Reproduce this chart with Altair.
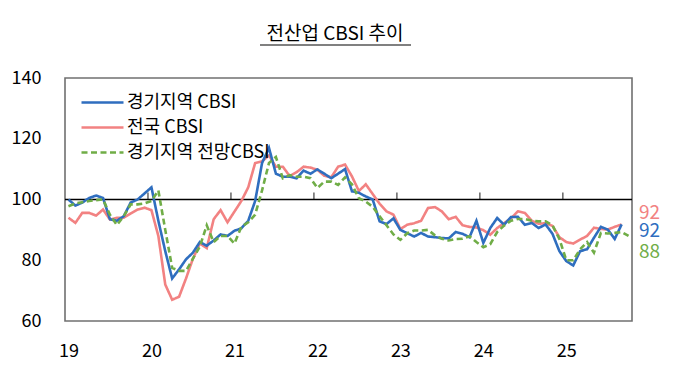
import altair as alt
import pandas as pd

title_text = "전산업 CBSI 추이"
years = ["19", "20", "21", "22", "23", "24", "25"]
series_names = ["경기지역 CBSI", "전국 CBSI", "경기지역 전망CBSI"]

gyeonggi = [100, 98, 99, 100.5, 101.3, 100.5, 93.5, 93, 94.5, 99, 100, 102, 104,
            93, 83, 74, 77, 80.3, 82.5, 86, 84.8, 86.5, 88.5, 88, 89.7, 90.5,
            93, 99.5, 112, 117, 108.5, 107.5, 107.5, 107, 109.5, 108.5, 109.9, 108.5, 107,
            108.5, 110, 102.7, 102.2, 101, 100, 92.8, 91.9, 93.8, 90, 88.9, 87.8, 89,
            87.8, 87.6, 87.3, 87.2, 89.3, 88.7, 87.6, 93, 85.7, 90.6, 93.9, 91.7, 94.2,
            94.3, 91.7, 92.3, 90.6, 91.8, 88.7, 83, 79.7, 78.3, 83, 83.6, 87.4, 91,
            90.1, 87, 91.8]
national = [94, 92.3, 95.6, 95.6, 94.7, 96.7, 93.4, 94, 94, 95.4, 96.7, 97.3, 96.5,
            88, 72, 67, 68, 74, 80.5, 85.5, 84, 93.5, 96.5, 92.5, 96, 99.5,
            104, 112, 112.6, 114.5, 110.8, 110.8, 107.7, 109, 110.8, 110.5, 109.8, 107.8, 107.3,
            110.8, 111.5, 107.6, 102.8, 105, 101.8, 98.6, 96.1, 95, 90.3, 91.7, 92.2, 93,
            97.2, 97.5, 96.1, 93.5, 94.3, 91.5, 91, 90.8, 89.9, 88.4, 90.6, 92.2, 93.8,
            96.1, 95.6, 93, 92, 92.2, 91.3, 87.6, 86, 85.5, 86.8, 88, 90.7, 90.3,
            90.1, 91, 91.8]
outlook = [97.8, 98.7, 99.1, 99.5, 99.8, 100, 95, 91.6, 94.5, 98.4, 98.4, 98.7, 99.5,
           103, 90, 77.5, 76.5, 76.5, 80.5, 84.5, 91.5, 86, 88, 88, 85.5, 91,
           92.5, 95, 103, 112, 114, 107, 108, 107.5, 107.5, 107, 103.8, 105.9, 105.9,
           104.8, 107.3, 105, 100.4, 99.3, 97.6, 94.5, 91.5, 88.5, 86.7, 88.9, 89.8, 89.8,
           90, 88.2, 87.1, 86.5, 87, 87.1, 87.9, 86, 84.3, 85.3, 89.3, 91.4, 93,
           93.6, 93.6, 93, 92.8, 92.8, 91.5, 87, 80, 80, 83.6, 86, 82.5, 89,
           88.8, 89, 89.3, 88]

colors = ["#2F6EBF", "#F28282", "#70AD47"]
dashes = [[1, 0], [1, 0], [6, 3.5]]
values = [gyeonggi, national, outlook]
label_dy = [7, -11, 16]
draw_order = [1, 0, 2]

n_months = len(years) * 12 - 2
W, H = 567, 243
FONT = "Noto Sans CJK KR"

xscale = alt.Scale(domain=[-0.5, n_months - 0.5], nice=False, zero=False)
yscale = alt.Scale(domain=[60, 140], nice=False, zero=False)
cscale = alt.Scale(domain=series_names, range=colors)
dscale = alt.Scale(domain=series_names, range=dashes)

label_expr = "[" + ",".join(f"'{y}'" for y in years) + "][round(datum.value/12)]"
xaxis = alt.Axis(values=[12 * k for k in range(len(years))], labelExpr=label_expr,
                 title=None, ticks=False, domain=False, grid=False,
                 labelFontSize=18, labelFont=FONT, labelColor="black", labelPadding=21)
yaxis = alt.Axis(values=[60, 80, 100, 120, 140], title=None, ticks=False, domain=False,
                 grid=False, labelFontSize=18, labelFont=FONT, labelColor="black",
                 labelPadding=24)

layers = []

base_line = alt.Chart(pd.DataFrame({"v": [100]})).mark_rule(
    color="black", strokeWidth=1.3).encode(y=alt.Y("v:Q", scale=yscale, axis=yaxis))
layers.append(base_line)

bounds = pd.DataFrame({"b": [12 * k - 0.5 for k in range(1, len(years))], "v": [100] * (len(years) - 1)})
ticks = alt.Chart(bounds).mark_tick(orient="vertical", size=7, thickness=1.3,
                                    color="black", yOffset=-3.5).encode(
    x=alt.X("b:Q", scale=xscale, axis=xaxis),
    y=alt.Y("v:Q", scale=yscale))
layers.append(ticks)

# wide horizontal stroke symbol (drawn twice as wide as its nominal layout size)
legend = alt.Legend(orient="none", legendX=15, legendY=12.5, title=None,
                    symbolType="M-1,0L3,0", symbolSize=441, symbolStrokeWidth=2.6,
                    labelFontSize=18, labelFont=FONT, labelColor="black",
                    rowPadding=4, labelOffset=23, padding=0, symbolLimit=0)

for k in draw_order:
    name = series_names[k]
    df = pd.DataFrame({"idx": list(range(len(values[k]))), "value": values[k],
                       "series": [name] * len(values[k])})
    line = alt.Chart(df).mark_line(strokeWidth=2.6).encode(
        x=alt.X("idx:Q", scale=xscale),
        y=alt.Y("value:Q", scale=yscale),
        color=alt.Color("series:N", scale=cscale, legend=legend),
        strokeDash=alt.StrokeDash("series:N", scale=dscale, legend=legend),
    )
    layers.append(line)

for k in range(3):
    last = values[k][-1]
    df = pd.DataFrame({"value": [last], "label": [f"{round(last):d}"]})
    txt = alt.Chart(df).mark_text(align="left", baseline="middle", fontSize=19,
                                  font=FONT, color=colors[k], dy=label_dy[k]).encode(
        x=alt.value(W + 7),
        y=alt.Y("value:Q", scale=yscale),
        text="label:N")
    layers.append(txt)

title = alt.Chart(pd.DataFrame({"t": [title_text]})).mark_text(
    fontSize=19, font=FONT, color="black", baseline="middle", align="center").encode(
    x=alt.value(270), y=alt.value(-44), text="t:N")
layers.append(title)

underline = alt.Chart(pd.DataFrame({"a": [0]})).mark_rule(color="#808080", strokeWidth=2).encode(
    x=alt.value(195), x2=alt.value(346), y=alt.value(-33))
layers.append(underline)

chart = alt.layer(*layers).properties(
    width=W, height=H,
    autosize=alt.AutoSizeParams(type="none"),
    padding={"left": 57, "top": 70, "right": 40, "bottom": 50},
).configure_view(stroke="#707070", strokeWidth=1.6)

chart.save("out.html", embed_options={"renderer": "svg", "actions": False})
